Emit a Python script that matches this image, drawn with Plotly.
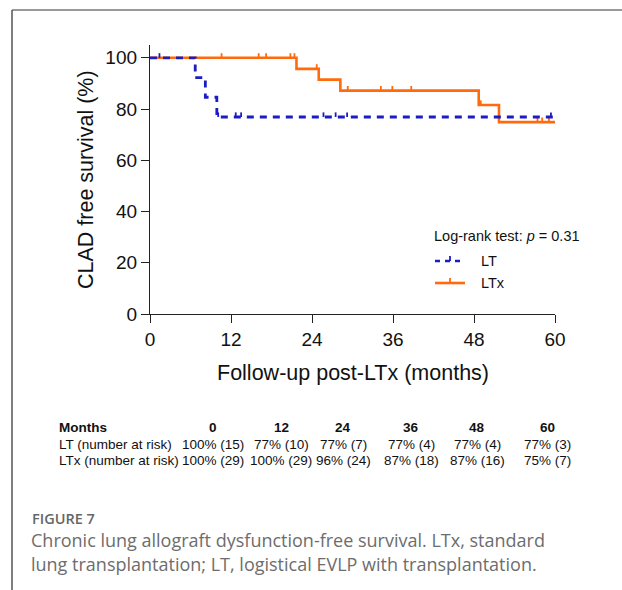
import plotly.graph_objects as go

# ---------------- data ----------------
lt_times = [0, 6.7, 8.2, 9.9, 60]
lt_surv = [100, 92.3, 84.6, 76.9, 76.9]
lt_censor = [1.4, 10.1, 12.7, 13.5, 25.7, 27.5, 29.2, 59.4]

ltx_times = [0, 21.7, 25.0, 28.2, 48.7, 51.7, 60]
ltx_surv = [100, 95.7, 91.5, 87.2, 81.6, 74.9, 74.9]
ltx_censor = [10.6, 16.1, 17.2, 20.8, 21.4, 24.7, 29.3, 34.2, 35.9, 38.7, 49.0, 57.4, 58.1, 59.1]

x_ticks = [0, 12, 24, 36, 48, 60]
y_ticks = [0, 20, 40, 60, 80, 100]

table_header = ["Months", "0", "12", "24", "36", "48", "60"]
lt_row = ["LT (number at risk)", "100% (15)", "77% (10)", "77% (7)", "77% (4)", "77% (4)", "77% (3)"]
ltx_row = ["LTx (number at risk)", "100% (29)", "100% (29)", "96% (24)", "87% (18)", "87% (16)", "75% (7)"]

BLUE = "#1c1cc4"
ORANGE = "#ff6a0d"
FONT = "Liberation Sans, Arial"

# plot area in pixels
L, R, T, B = 150, 555, 45, 314
W, H = 622, 590


def px2x(px):
    return (px - L) / (R - L)


def py2y(py):
    return (B - py) / (B - T)


def surv_at(times, surv, t):
    s = surv[0]
    for ti, si in zip(times, surv):
        if ti <= t:
            s = si
    return s


def censor_xy(times, surv, cens, h=1.8):
    xs, ys = [], []
    for t in cens:
        s = surv_at(times, surv, t)
        xs += [t, t, None]
        ys += [s, s + h, None]
    return xs, ys


fig = go.Figure()

# LTx (orange)
fig.add_trace(go.Scatter(x=ltx_times, y=ltx_surv, mode="lines", line_shape="hv",
                         line=dict(color=ORANGE, width=2.6), cliponaxis=False,
                         showlegend=False))
cx, cy = censor_xy(ltx_times, ltx_surv, ltx_censor)
fig.add_trace(go.Scatter(x=cx, y=cy, mode="lines", line=dict(color=ORANGE, width=1.8),
                         cliponaxis=False, showlegend=False))

# LT (blue dashed)
fig.add_trace(go.Scatter(x=lt_times, y=lt_surv, mode="lines", line_shape="hv",
                         line=dict(color=BLUE, width=2.8, dash="7px,6px"), cliponaxis=False,
                         showlegend=False))
cx, cy = censor_xy(lt_times, lt_surv, lt_censor)
fig.add_trace(go.Scatter(x=cx, y=cy, mode="lines", line=dict(color=BLUE, width=1.8),
                         cliponaxis=False, showlegend=False))

annotations = []
shapes = []


def ann(text, px, py, size, xanchor="center", family=FONT, color="#111", **kw):
    f = dict(family=family, size=size, color=color)
    if "weight" in kw:
        f["weight"] = kw.pop("weight")
    annotations.append(dict(text=text, x=px2x(px), y=py2y(py), xref="paper", yref="paper",
                            xanchor=xanchor, yanchor="middle", showarrow=False, font=f, **kw))


# axis titles
ann("CLAD free survival (%)", 86, 180, 21.5, textangle=-90)
ann("Follow-up post-LTx (months)", 353, 373, 21.5)

# legend
ann("Log-rank test: <i>p</i> = 0.31", 432, 236, 14.5, xanchor="left")
for lab, py, col, dash in [("LT", 261, BLUE, "5px,5px"), ("LTx", 283, ORANGE, "solid")]:
    ann(lab, 479, py, 14.5, xanchor="left")
    shapes.append(dict(type="line", xref="paper", yref="paper", x0=px2x(435), x1=px2x(465),
                       y0=py2y(py), y1=py2y(py), line=dict(color=col, width=2.6, dash=dash)))
    shapes.append(dict(type="line", xref="paper", yref="paper", x0=px2x(450), x1=px2x(450),
                       y0=py2y(py), y1=py2y(py - 5), line=dict(color=col, width=1.8)))

# risk table
col_x = [57, 213, 281, 343, 411, 477, 547]
row_y = [427, 444, 460]
for r, row in enumerate([table_header, lt_row, ltx_row]):
    for c, txt in enumerate(row):
        t = "<b>%s</b>" % txt if r == 0 else txt
        ann(t, col_x[c], row_y[r], 13.5, xanchor="left" if c == 0 else "center")

# caption
CAP = "Open Sans"
ann("FIGURE 7", 30, 518, 14.5, xanchor="left", family=CAP, color="#666", weight=600)
for txt, py in [("Chronic lung allograft dysfunction-free survival. LTx, standard", 540),
                ("lung transplantation; LT, logistical EVLP with transplantation.", 564)]:
    ann(txt, 29, py, 18, xanchor="left", family=CAP, color="#6d6d6d")

# frame border
shapes.append(dict(type="line", xref="paper", yref="paper", x0=px2x(12), x1=px2x(W + 5),
                   y0=py2y(10), y1=py2y(10), line=dict(color="#777", width=1.5)))
shapes.append(dict(type="line", xref="paper", yref="paper", x0=px2x(12), x1=px2x(12),
                   y0=py2y(10), y1=py2y(H + 5), line=dict(color="#555", width=1.5)))

fig.update_layout(
    width=W, height=H,
    margin=dict(l=L, r=W - R, t=T, b=H - B, pad=0),
    paper_bgcolor="white", plot_bgcolor="white",
    showlegend=False,
    annotations=annotations, shapes=shapes,
    font=dict(family=FONT, color="#111"),
)
fig.update_xaxes(range=[0, 60], tickvals=x_ticks, showline=True, linecolor="#222",
                 linewidth=1.3, ticks="outside", ticklen=8, tickwidth=1.3, tickcolor="#222",
                 showgrid=False, zeroline=False, tickfont=dict(family=FONT, size=19, color="#111"))
fig.update_yaxes(range=[0, 105], tickvals=y_ticks, showline=True, linecolor="#222",
                 linewidth=1.3, ticks="outside", ticklen=8, tickwidth=1.3, tickcolor="#222",
                 showgrid=False, zeroline=False, tickfont=dict(family=FONT, size=19, color="#111"))

fig.write_html("out.html")
